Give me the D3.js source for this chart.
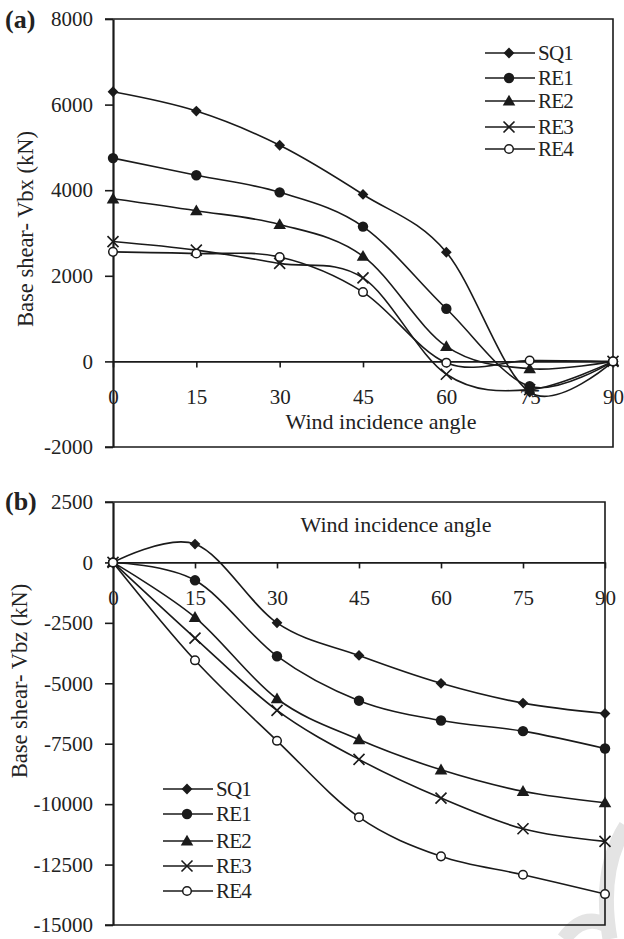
<!DOCTYPE html>
<html><head><meta charset="utf-8">
<script src="https://cdn.jsdelivr.net/npm/d3@7"></script>
<style>body{margin:0;background:#fff}svg{display:block}text{font-family:"Liberation Serif","Times New Roman",serif;fill:#222}</style>
</head><body>
<script>
const angles = [0, 15, 30, 45, 60, 75, 90];
const seriesNames = ["SQ1", "RE1", "RE2", "RE3", "RE4"];
// Panel (a): Base shear Vbx (kN)
const vbxSQ1 = [6300, 5850, 5050, 3900, 2550, -720, 0];
const vbxRE1 = [4750, 4350, 3950, 3150, 1230, -580, 0];
const vbxRE2 = [3800, 3520, 3200, 2460, 350, -170, 0];
const vbxRE3 = [2800, 2600, 2290, 1950, -300, -660, 0];
const vbxRE4 = [2560, 2520, 2440, 1620, -30, 20, 0];
// Panel (b): Base shear Vbz (kN)
const vbzSQ1 = [0, 760, -2500, -3850, -5000, -5820, -6250];
const vbzRE1 = [0, -740, -3880, -5720, -6540, -6980, -7700];
const vbzRE2 = [0, -2270, -5640, -7330, -8580, -9470, -9940];
const vbzRE3 = [0, -3130, -6120, -8150, -9750, -11020, -11540];
const vbzRE4 = [0, -4050, -7380, -10540, -12160, -12920, -13720];
const yTicksA = [-2000, 0, 2000, 4000, 6000, 8000];
const yTicksB = [-15000, -12500, -10000, -7500, -5000, -2500, 0, 2500];
const xTicks = [0, 15, 30, 45, 60, 75, 90];

const W = 624, H = 939;
const svg = d3.select("body").append("svg").attr("width", W).attr("height", H);
const ink = "#1a1a1a";

// faint watermark fragments (behind everything)
svg.append("path").attr("d", "M626,826 Q598,870 610,939 M564,939 Q582,914 604,924")
  .attr("fill", "none").attr("stroke", "#e4e4e4").attr("stroke-width", 15);

function marker(g, name, x, y) {
  if (name === "SQ1") {
    g.append("path").attr("d", d3.symbol(d3.symbolSquare, 58)()).attr("transform", `translate(${x},${y}) rotate(45)`).attr("fill", ink);
  } else if (name === "RE1") {
    g.append("circle").attr("cx", x).attr("cy", y).attr("r", 5.2).attr("fill", ink);
  } else if (name === "RE2") {
    g.append("path").attr("d", d3.symbol(d3.symbolTriangle, 68)()).attr("transform", `translate(${x},${y + 1})`).attr("fill", ink);
  } else if (name === "RE3") {
    const s = 5.5;
    g.append("path").attr("d", `M${x - s},${y - s}L${x + s},${y + s}M${x - s},${y + s}L${x + s},${y - s}`).attr("stroke", ink).attr("stroke-width", 1.6).attr("fill", "none");
  } else {
    g.append("circle").attr("cx", x).attr("cy", y).attr("r", 4.3).attr("fill", "#fff").attr("stroke", ink).attr("stroke-width", 1.5);
  }
}

function panel(cfg) {
  const g = svg.append("g");
  const x = d3.scaleLinear().domain([0, 90]).range([cfg.x0, cfg.x1]);
  const y = d3.scaleLinear().domain(cfg.ydom).range([cfg.yb, cfg.yt]);
  // frame
  g.append("path").attr("d", `M${cfg.x0 - 8},${cfg.yt}H${cfg.x1}V${cfg.yb}H${cfg.x0 - 8}`).attr("fill", "none").attr("stroke", ink).attr("stroke-width", 1.6);
  // y axis
  const ya = g.append("g").attr("transform", `translate(${cfg.x0},0)`)
    .call(d3.axisLeft(y).tickValues(cfg.yticks).tickSize(8).tickSizeOuter(0).tickPadding(12).tickFormat(d => String(d)));
  ya.select(".domain").attr("stroke", ink).attr("stroke-width", 2.2);
  ya.selectAll(".tick line").attr("stroke", ink).attr("stroke-width", 1.6);
  ya.selectAll("text").attr("font-size", 21).attr("fill", "#222");
  // x axis at zero
  const xa = g.append("g").attr("transform", `translate(0,${y(0)})`)
    .call(d3.axisBottom(x).tickValues(cfg.xticks).tickSize(6).tickSizeOuter(0).tickPadding(cfg.xpad).tickFormat(d => String(d)));
  xa.select(".domain").attr("stroke", ink).attr("stroke-width", 1.8);
  xa.selectAll(".tick line").attr("stroke", ink).attr("stroke-width", 1.6);
  xa.selectAll("text").attr("font-size", 21).attr("fill", "#222");
  // lines
  const line = d3.line().x((d, i) => x(angles[i])).y(d => y(d)).curve(d3.curveCardinal.tension(0));
  cfg.series.forEach((vals) => {
    g.append("path").attr("d", line(vals)).attr("fill", "none").attr("stroke", ink).attr("stroke-width", 1.6);
  });
  cfg.series.forEach((vals, k) => {
    vals.forEach((v, i) => marker(g, seriesNames[k], x(angles[i]), y(v)));
  });
  // legend
  seriesNames.forEach((n, k) => {
    const ly = cfg.legY[k];
    g.append("line").attr("x1", cfg.legX).attr("x2", cfg.legX + 50).attr("y1", ly).attr("y2", ly).attr("stroke", ink).attr("stroke-width", 1.5);
    marker(g, n, cfg.legX + 24, ly);
    g.append("text").attr("x", cfg.legX + 53).attr("y", ly + 7).attr("font-size", 21).attr("letter-spacing", -0.8).text(n);
  });
  // titles
  g.append("text").attr("x", cfg.xtX).attr("y", cfg.xtY).attr("text-anchor", "middle").attr("font-size", 22).text("Wind incidence angle");
  g.append("text").attr("transform", `translate(${cfg.ytX},${cfg.ytY}) rotate(-90)`).attr("text-anchor", "middle").attr("font-size", 22.5).text(cfg.ytitle);
  g.append("text").attr("x", 5).attr("y", cfg.labY).attr("font-size", 26).attr("font-weight", "bold").attr("fill", "#111").text(cfg.label);
}

panel({
  x0: 113, x1: 613, yt: 19, yb: 447, ydom: [-2000, 8000], yticks: yTicksA, xticks: xTicks, xpad: 22,
  series: [vbxSQ1, vbxRE1, vbxRE2, vbxRE3, vbxRE4],
  legX: 485, legY: [53, 78, 101, 127, 149],
  xtX: 381, xtY: 429, ytX: 33, ytY: 229, ytitle: "Base shear- Vbx (kN)", label: "(a)", labY: 28
});
panel({
  x0: 113, x1: 605, yt: 502, yb: 925, ydom: [-15000, 2500], yticks: yTicksB, xticks: xTicks, xpad: 22,
  series: [vbzSQ1, vbzRE1, vbzRE2, vbzRE3, vbzRE4],
  legX: 163, legY: [789, 814, 841, 866, 891],
  xtX: 396, xtY: 532, ytX: 27, ytY: 681, ytitle: "Base shear- Vbz (kN)", label: "(b)", labY: 510
});
</script>
</body></html>
